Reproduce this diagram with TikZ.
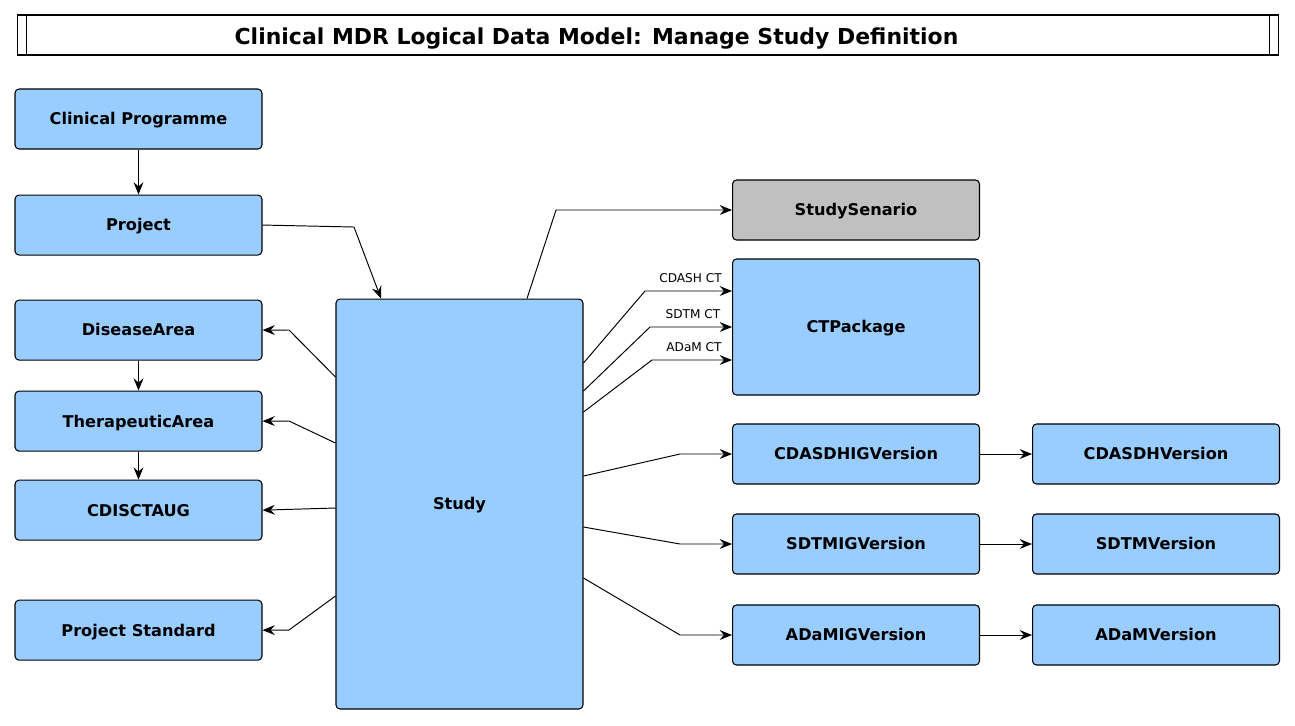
\documentclass[tikz,border=0pt]{standalone}
\usepackage{fontspec}
\setmainfont{DejaVu Sans}
\usetikzlibrary{positioning,arrows.meta}
\definecolor{boxblue}{HTML}{99CCFF}
\definecolor{boxgrey}{HTML}{C0C0C0}
\tikzset{
    entity/.style={draw, fill=boxblue, rounded corners=0.08cm, line width=0.6pt,
        minimum width=4.94cm, minimum height=1.2cm, text height=6.7pt, text depth=0pt,
        font=\fontsize{9.2}{11}\selectfont\bfseries},
    link/.style={-{Stealth[length=7pt,width=5.6pt,inset=2.4pt]}, line width=0.55pt},
    ctlabel/.style={font=\fontsize{6.9}{8}\selectfont, inner sep=0pt, above=0.16cm, xshift=0.04cm},
}

\begin{document}
\begin{tikzpicture}[x=0.02cm, y=-0.02cm]
    \useasboundingbox (0,0) rectangle (1295,725);

    \node[draw, line width=0.6pt, minimum width=25.24cm, minimum height=0.8cm] (frame) at (648,35) {};
    \draw[line width=0.6pt] ([xshift=0.2cm]frame.north west) -- ([xshift=0.2cm]frame.south west);
    \draw[line width=0.6pt] ([xshift=-0.2cm]frame.north east) -- ([xshift=-0.2cm]frame.south east);
    \node[font=\fontsize{12.5}{15}\selectfont\bfseries, text height=9.1pt, text depth=0pt] (title) at (596.5,36) {Clinical MDR Logical Data Model: Manage Study Definition};

    \node[entity] (prog) at (138.5,119) {Clinical Programme};
    \node[entity, below=0.9cm of prog] (proj) {Project};
    \node[entity, below=0.88cm of proj] (dis) {DiseaseArea};
    \node[entity, below=0.6cm of dis] (ther) {TherapeuticArea};
    \node[entity, below=0.56cm of ther] (taug) {CDISCTAUG};
    \node[entity, below=1.18cm of taug] (pstd) {Project Standard};

    \node[entity, minimum height=8.2cm, anchor=north west] (study) at ([xshift=1.46cm,yshift=0.02cm]dis.north east) {Study};

    \node[entity, fill=boxgrey] (scen) at (856,210) {StudySenario};
    \node[entity, minimum height=2.72cm] (ctp) at (856,327) {CTPackage};
    \node[entity] (cig) at (856,454) {CDASDHIGVersion};
    \node[entity] (sig) at (856,544) {SDTMIGVersion};
    \node[entity] (aig) at (856,635) {ADaMIGVersion};
    \node[entity, right=1.04cm of cig] (cv) {CDASDHVersion};
    \node[entity, right=1.04cm of sig] (sv) {SDTMVersion};
    \node[entity, right=1.04cm of aig] (av) {ADaMVersion};

    \draw[link] (prog) -- (proj);
    \draw[link] (proj.east) -- (354,227) -- ([xshift=-1.57cm]study.north);
    \draw[link] (dis) -- (ther);
    \draw[link] (ther) -- (taug);

    \draw[link] (study.west |- 0,377) -- (289,330) -- (dis.east);
    \draw[link] (study.west |- 0,443) -- (289,421) -- (ther.east);
    \draw[link] (study.west |- 0,508) -- (taug.east);
    \draw[link] (study.west |- 0,596) -- (289,630) -- (pstd.east);

    \draw[link] (study.north -| 527,0) -- (556,210) -- (scen.west);
    \draw[link] (study.east |- 0,363) -- (645,291) -- node[ctlabel] {CDASH CT} (ctp.west |- 0,291);
    \draw[link] (study.east |- 0,391) -- (650,327) -- node[ctlabel] {SDTM CT} (ctp.west);
    \draw[link] (study.east |- 0,412) -- (652,360) -- node[ctlabel] {ADaM CT} (ctp.west |- 0,360);
    \draw[link] (study.east |- 0,476) -- (680,454) -- (cig.west);
    \draw[link] (study.east |- 0,527) -- (680,544) -- (sig.west);
    \draw[link] (study.east |- 0,578) -- (680,635) -- (aig.west);

    \draw[link] (cig) -- (cv);
    \draw[link] (sig) -- (sv);
    \draw[link] (aig) -- (av);
\end{tikzpicture}
\end{document}
